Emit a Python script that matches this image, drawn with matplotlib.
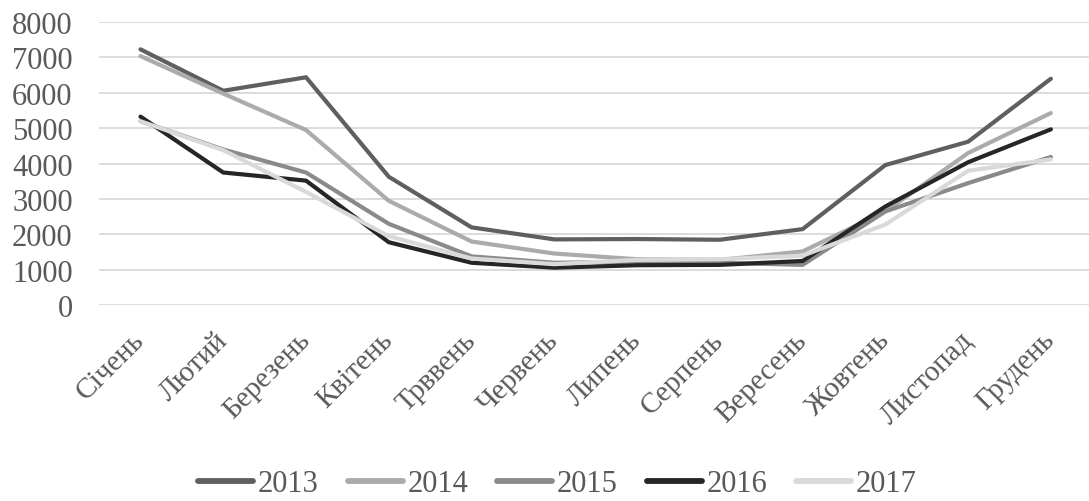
import matplotlib
matplotlib.use("Agg")
import matplotlib.pyplot as plt

plt.rcParams["font.family"] = ["Liberation Serif", "DejaVu Serif"]

months = ["Січень", "Лютий", "Березень", "Квітень", "Трввень", "Червень",
          "Липень", "Серпень", "Вересень", "Жовтень", "Листопад", "Грудень"]

y2013 = [7230, 6060, 6440, 3630, 2200, 1860, 1870, 1850, 2150, 3960, 4620, 6400]
y2014 = [7040, 5980, 4950, 2950, 1800, 1460, 1300, 1280, 1520, 2650, 4300, 5430]
y2015 = [5200, 4400, 3750, 2300, 1380, 1200, 1230, 1200, 1140, 2650, 3450, 4190]
y2016 = [5330, 3750, 3520, 1780, 1200, 1060, 1130, 1140, 1250, 2790, 4040, 4970]
y2017 = [5200, 4380, 3200, 1950, 1320, 1160, 1280, 1300, 1400, 2280, 3800, 4120]

series = [
    ("2013", y2013, "#5f5f5f"),
    ("2014", y2014, "#ababab"),
    ("2015", y2015, "#8a8a8a"),
    ("2016", y2016, "#262626"),
    ("2017", y2017, "#d9d9d9"),
]

txt = "#595959"

fig = plt.figure(figsize=(10.89, 5.02), dpi=100)
ax = fig.add_axes([0.091, 0.390, 0.912, 0.564])

x = list(range(len(months)))
for name, vals, col in series:
    ax.plot(x, vals, color=col, lw=3.0, label=name,
            solid_capstyle="round", solid_joinstyle="miter")

ax.set_xlim(-0.5, len(months) - 0.5)
ax.set_ylim(0, 8000)
ax.set_yticks(range(0, 8001, 1000))
ax.grid(axis="y", color="#d9d9d9", lw=1.3)
ax.set_axisbelow(True)
for s in ax.spines.values():
    s.set_visible(False)

ax.tick_params(axis="y", length=0, pad=19, labelsize=22, labelcolor=txt)
ax.tick_params(axis="x", length=0, pad=22, labelsize=21, labelcolor=txt)
ax.set_xticks(x)
ax.set_xticklabels(months, rotation=45, ha="right", va="center",
                   rotation_mode="anchor")

leg = fig.legend(loc="center", bbox_to_anchor=(0.512, 0.034), ncol=5,
                 frameon=False, fontsize=22, handlelength=1.8,
                 handletextpad=0.15, columnspacing=0.95)
for t in leg.get_texts():
    t.set_color(txt)
for h in leg.get_lines():
    h.set_linewidth(4.2)
    h.set_solid_capstyle("round")

fig.savefig("out.png", dpi=100)
